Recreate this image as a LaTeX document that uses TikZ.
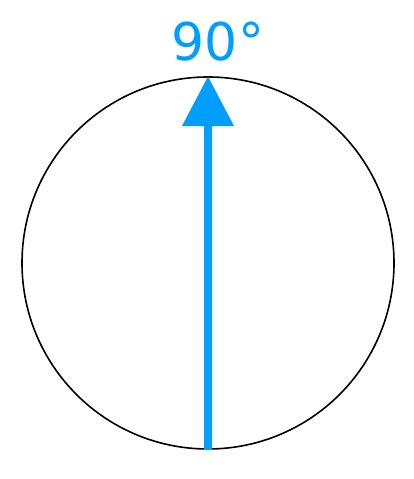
\documentclass[tikz,border=0pt]{standalone}
\usepackage{fontspec}
\setmainfont{DejaVu Sans}
\usetikzlibrary{arrows.meta}
\definecolor{dialblue}{RGB}{0,158,255}

\begin{document}
\begin{tikzpicture}[x=1pt, y=1pt]
	\useasboundingbox (0, 0) rectangle (414, 479);
	% Dial, needle and label:
	\node[draw, circle, line width=1.6pt, minimum size=372pt, inner sep=0pt] (dial) at (208, 216) {};
	\coordinate (tail) at (dial.south);
	\coordinate (tip) at (dial.north);
	\draw[dialblue, line width=8pt, -{Triangle[length=50pt, width=50pt]}] (tail) -- (tip);
	\node[text=dialblue, font=\fontsize{52}{52}\selectfont, inner sep=0pt] (angle) at (218, 437) {90°};
\end{tikzpicture}
\end{document}
